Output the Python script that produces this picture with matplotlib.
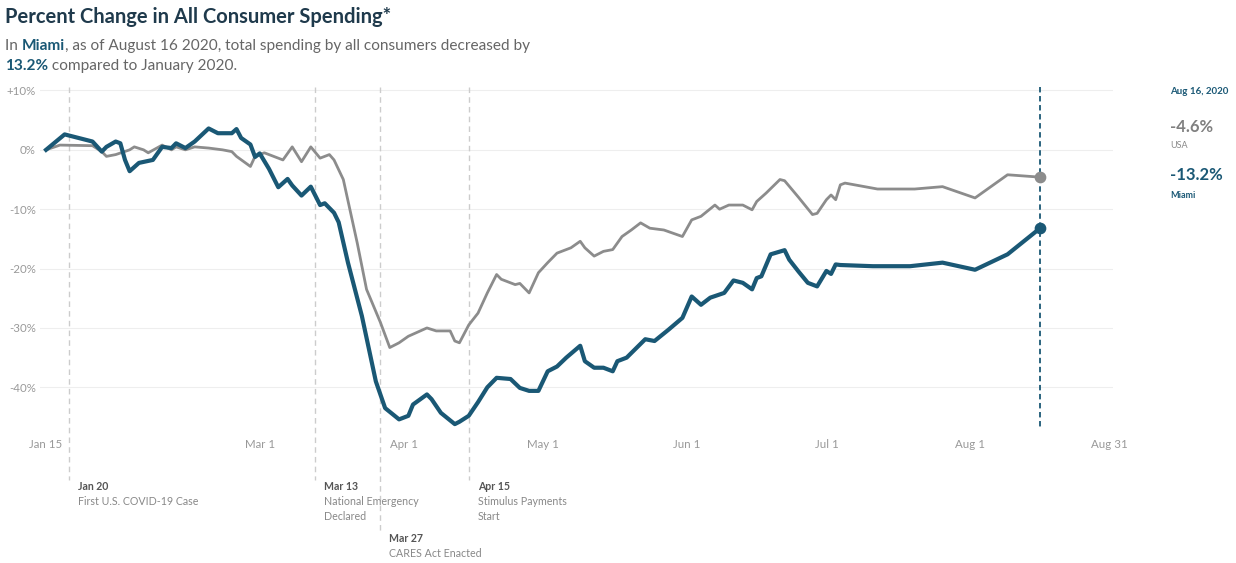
import numpy as np
import matplotlib
matplotlib.use("Agg")
import matplotlib.pyplot as plt
import matplotlib.dates as mdates
from matplotlib.transforms import blended_transform_factory

plt.rcParams["font.family"] = ["Lato", "DejaVu Sans"]

START = np.datetime64("2020-01-15")

# days since Jan 15 2020, percent change vs January
miami_day = [0, 4, 10, 12, 13, 15, 16, 17, 18, 20, 23, 25, 27, 28, 30, 32, 35, 37,
             40, 41, 42, 44, 45, 46, 48, 50, 52, 53, 55, 57, 59, 60, 62, 63, 65, 68,
             71, 73, 76, 78, 79, 82, 83, 85, 88, 89, 91, 93, 95, 97, 100, 102, 104,
             106, 108, 110, 112, 115, 116, 118, 120, 122, 123, 125, 129, 131, 134,
             137, 139, 141, 143, 146, 148, 150, 152, 153, 154, 156, 159, 160, 162,
             164, 166, 168, 169, 170, 171, 178, 186, 193, 200, 207, 214]
miami_pct = [0.0, 2.6, 1.4, -0.3, 0.5, 1.4, 1.1, -1.7, -3.6, -2.2, -1.7, 0.5, 0.3,
             1.1, 0.3, 1.4, 3.6, 2.8, 2.8, 3.5, 2.0, 0.9, -1.2, -0.6, -3.2, -6.3,
             -4.9, -6.0, -7.7, -6.2, -9.3, -9.0, -10.6, -12.2, -19.0, -28.0, -39.0,
             -43.5, -45.4, -44.8, -42.9, -41.2, -42.0, -44.3, -46.2, -45.8, -44.8,
             -42.5, -40.0, -38.4, -38.6, -40.1, -40.6, -40.6, -37.3, -36.5, -35.0,
             -33.0, -35.6, -36.7, -36.7, -37.3, -35.6, -35.0, -31.9, -32.2, -30.3,
             -28.3, -24.7, -26.1, -24.9, -24.1, -22.0, -22.4, -23.5, -21.6, -21.3,
             -17.6, -16.9, -18.5, -20.5, -22.4, -23.0, -20.4, -20.9, -19.3, -19.4,
             -19.6, -19.6, -19.0, -20.2, -17.6, -13.2]

usa_day = [0, 3, 10, 12, 13, 15, 18, 19, 21, 22, 25, 27, 28, 30, 32, 35, 38, 40,
           41, 44, 45, 47, 51, 53, 55, 57, 59, 61, 62, 64, 67, 69, 72, 74, 76, 78,
           82, 84, 87, 88, 89, 91, 93, 95, 97, 98, 101, 102, 104, 106, 108, 110,
           113, 115, 116, 118, 120, 122, 124, 126, 128, 130, 133, 137, 139, 140,
           141, 144, 145, 147, 150, 152, 153, 155, 158, 159, 162, 165, 166, 168,
           169, 170, 171, 172, 179, 187, 193, 200, 207, 214]
usa_pct = [0.0, 0.8, 0.7, -0.3, -1.1, -0.8, 0.0, 0.5, 0.0, -0.5, 0.8, 0.0, 0.5, 0.0,
           0.5, 0.3, 0.0, -0.3, -1.1, -2.8, -1.1, -0.5, -1.7, 0.5, -2.0, 0.5, -1.4,
           -0.8, -1.7, -5.0, -15.7, -23.5, -29.1, -33.3, -32.5, -31.4, -30.0, -30.5,
           -30.5, -32.2, -32.5, -29.5, -27.5, -24.1, -21.0, -21.8, -22.7, -22.5,
           -24.1, -20.7, -19.0, -17.4, -16.5, -15.4, -16.5, -17.9, -17.1, -16.8,
           -14.6, -13.5, -12.3, -13.2, -13.5, -14.6, -11.8, -11.5, -11.2, -9.3,
           -10.0, -9.3, -9.3, -10.1, -8.7, -7.3, -5.0, -5.2, -8.0, -10.9, -10.7,
           -8.4, -7.6, -8.4, -5.9, -5.6, -6.6, -6.6, -6.2, -8.1, -4.2, -4.6]

tick_dates = ["2020-01-15", "2020-03-01", "2020-04-01", "2020-05-01",
              "2020-06-01", "2020-07-01", "2020-08-01", "2020-08-31"]
tick_labels = ["Jan 15", "Mar 1", "Apr 1", "May 1", "Jun 1", "Jul 1", "Aug 1", "Aug 31"]
y_ticks = [10, 0, -10, -20, -30, -40]
y_labels = ["+10%", "0%", "-10%", "-20%", "-30%", "-40%"]

events = [
    ("2020-01-20", "Jan 20", ["First U.S. COVID-19 Case"], 0),
    ("2020-03-13", "Mar 13", ["National Emergency", "Declared"], 0),
    ("2020-03-27", "Mar 27", ["CARES Act Enacted"], 1),
    ("2020-04-15", "Apr 15", ["Stimulus Payments", "Start"], 0),
]
latest_date = "2020-08-16"
latest_usa = -4.6
latest_miami = -13.2

BLUE = "#1a5875"
GREY = "#8c8c8c"
TEXT = "#666666"

miami_x = START + np.array(miami_day).astype("timedelta64[D]")
usa_x = START + np.array(usa_day).astype("timedelta64[D]")

W, H = 1236, 563
fig = plt.figure(figsize=(W / 100, H / 100), dpi=100)
ax = fig.add_axes([40 / W, 1 - 436 / H, (1113 - 40) / W, (436 - 87.5) / H])

ax.set_xlim(mdates.date2num(np.datetime64("2020-01-15")) - 1.3,
            mdates.date2num(np.datetime64("2020-08-31")) + 0.7)
ax.set_ylim(-48.2, 10.5)

for v in y_ticks:
    ax.axhline(v, color="#eeeeee", lw=0.8, zorder=0)

ax.plot(usa_x, usa_pct, color=GREY, lw=2.0, zorder=3, solid_joinstyle="round")
ax.plot(miami_x, miami_pct, color=BLUE, lw=3.0, zorder=4, solid_joinstyle="round")

ax.set_xticks(mdates.date2num(np.array(tick_dates, dtype="datetime64[D]")))
ax.set_xticklabels(tick_labels)
ax.set_yticks(y_ticks)
ax.set_yticklabels(y_labels)
ax.tick_params(length=0, labelsize=8.3, labelcolor="#999999")
ax.tick_params(axis="y", pad=3)
ax.tick_params(axis="x", pad=2)
for s in ax.spines.values():
    s.set_visible(False)

# event markers, running below the axes into the note area
trans = blended_transform_factory(ax.transData, fig.transFigure)
for d, head, lines, row in events:
    xd = mdates.date2num(np.datetime64(d))
    y_end = 480 if row == 0 else 532
    ax.plot([xd, xd], [1 - 87 / H, 1 - y_end / H], transform=trans, clip_on=False,
            color="#cccccc", lw=1.0, ls=(0, (4, 3)), zorder=1)
    y0 = 486 if row == 0 else 538
    xt = ax.transData.transform((xd, 0))[0] + 9
    fig.text(xt / W, 1 - y0 / H, head, fontsize=7.6, fontweight="bold",
             color="#555555", va="center", ha="left")
    for i, ln in enumerate(lines):
        fig.text(xt / W, 1 - (y0 + 15.5 * (i + 1)) / H, ln, fontsize=7.7,
                 color="#888888", va="center", ha="left")

# latest value marker
xl = mdates.date2num(np.datetime64(latest_date))
ax.plot([xl, xl], [1 - 87 / H, 1 - 430 / H], transform=trans, clip_on=False,
        color=BLUE, lw=1.3, ls=(0, (3, 2)), zorder=2)
ax.scatter([xl], [latest_usa], s=55, color=GREY, zorder=5)
ax.scatter([xl], [latest_miami], s=55, color=BLUE, zorder=5)

xr = 1170 / W
fig.text(xr, 1 - 91 / H, "Aug 16, 2020", fontsize=7, fontweight="bold",
         color=BLUE, va="center")
fig.text(xr, 1 - 127 / H, f"{latest_usa:.1f}%", fontsize=12, fontweight="bold",
         color="#808080", va="center")
fig.text(xr, 1 - 145 / H, "USA", fontsize=6.5, color="#888888", va="center")
fig.text(xr, 1 - 175 / H, f"{latest_miami:.1f}%", fontsize=12, fontweight="bold",
         color=BLUE, va="center")
fig.text(xr, 1 - 195 / H, "Miami", fontsize=6.5, fontweight="bold", color=BLUE,
         va="center")

# title and subtitle
fig.text(5 / W, 1 - 17 / H, "Percent Change in All Consumer Spending*",
         fontsize=14.5, fontweight="bold", color="#1f3a4c", va="center")


def rich_line(x_px, y_px, parts, size=11.1):
    fig.canvas.draw()
    r = fig.canvas.get_renderer()
    x = x_px
    for txt, bold in parts:
        t = fig.text(x / W, 1 - y_px / H, txt, fontsize=size, va="center",
                     fontweight="bold" if bold else "normal",
                     color=BLUE if bold else TEXT)
        x += t.get_window_extent(renderer=r).width


rich_line(5, 46, [("In ", False), ("Miami", True),
                  (", as of August 16 2020, total spending by all consumers decreased by", False)])
rich_line(5, 66, [(f"{-latest_miami:.1f}%", True), (" compared to January 2020.", False)])

fig.savefig("out.png", dpi=100)
